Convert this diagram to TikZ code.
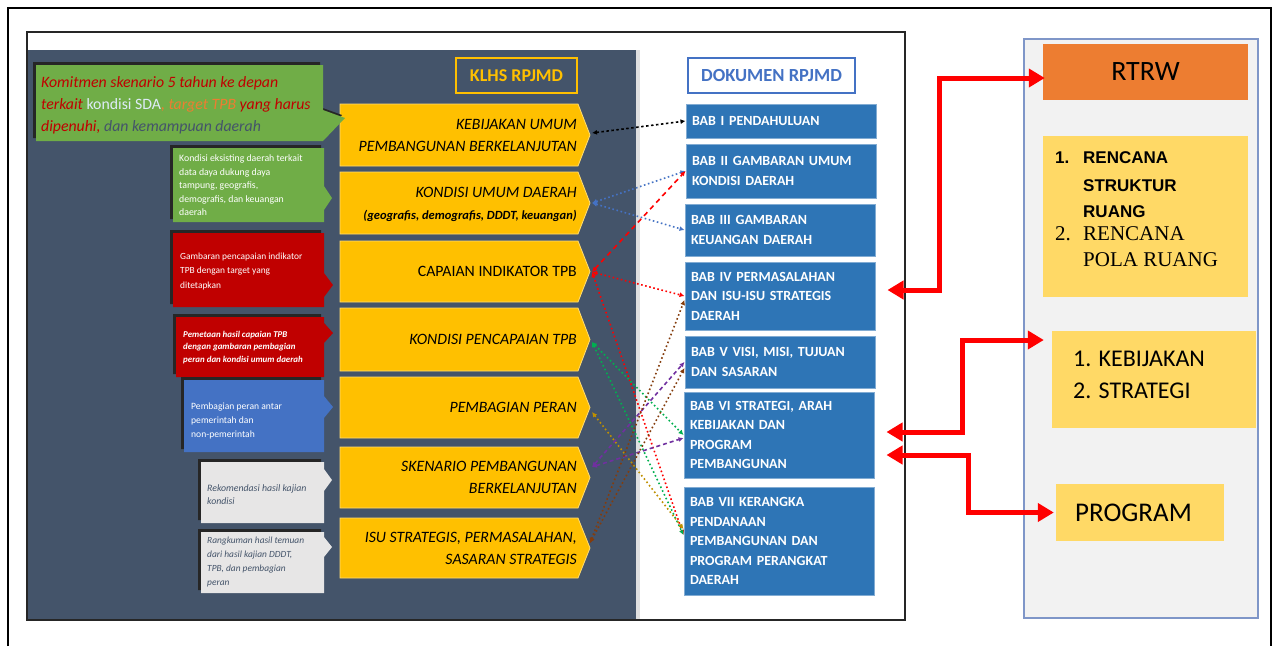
\documentclass[tikz,border=0pt]{standalone}
\usepackage{fontspec}
\setmainfont{Carlito}
\newfontfamily\lsans{Liberation Sans}
\newfontfamily\lserif{Liberation Serif}
\usetikzlibrary{arrows.meta,calc}
\definecolor{slate}{HTML}{44546A}
\definecolor{ygold}{HTML}{FFC000}
\definecolor{babblue}{HTML}{2E75B6}
\definecolor{kred}{HTML}{C00000}
\definecolor{cgreen}{HTML}{70AD47}
\definecolor{cblue}{HTML}{4472C4}
\definecolor{cgray}{HTML}{E7E6E6}
\definecolor{sdablue}{HTML}{DEEBF7}
\definecolor{orng}{HTML}{ED7D31}
\definecolor{lyellow}{HTML}{FFD966}
\definecolor{panelgray}{HTML}{F2F2F2}
\definecolor{panelborder}{HTML}{7F96C8}
\definecolor{cpurple}{HTML}{7030A0}
\definecolor{cbrown}{HTML}{843C0C}
\definecolor{cgold}{HTML}{BF9000}
\definecolor{cgreenl}{HTML}{00B050}
\newcommand\ypent[2]{\filldraw[ybox] (340,#1) -- (578,#1) -- (590,{(#1+#2)/2}) -- (578,#2) -- (340,#2) -- cycle;}
\newcommand\mycallout[9]{%
  \fill[black!85,shift={(-3,-3)}] (#2,#3) -- (#4,#3) -- (#4,#6) -- (#7,#8) -- (#4,#9) -- (#4,#5) -- (#2,#5) -- cycle;
  \fill[#1] (#2,#3) -- (#4,#3) -- (#4,#6) -- (#7,#8) -- (#4,#9) -- (#4,#5) -- (#2,#5) -- cycle;}
\begin{document}
\begin{tikzpicture}[x=1pt,y=-1pt,
  txt/.style={inner sep=0pt},
  bab/.style={fill=babblue, draw=babblue!60!white, line width=1pt, text=white,
    font=\bfseries\fontsize{14}{19.5}\selectfont, align=left, text width=178pt,
    inner xsep=6pt, inner ysep=2pt, minimum width=190pt},
  ybox/.style={fill=ygold, draw=ygold!55!white, line width=0.8pt},
  ytext/.style={inner sep=0pt, anchor=east, align=right, font=\itshape\fontsize{15.8}{22}\selectfont},
  ctext/.style={inner sep=0pt, anchor=west, align=left, text=white},
  conn/.style={line width=1.6pt, dash pattern=on 1.6pt off 2.6pt, {Latex[length=5pt,width=5pt]}-{Latex[length=5pt,width=5pt]}},
  bigarrow/.style={red, line width=5pt, {Triangle[length=16pt,width=18pt]}-{Triangle[length=16pt,width=18pt]}}
]
\useasboundingbox (0,0) rectangle (1278,646);
\fill[white] (0,0) rectangle (1278,646);
% outer frame
\draw[line width=2.5pt] (8,646) -- (8,8) -- (1271,8) -- (1271,646);
% inner frame
\filldraw[fill=white, draw=black!85, line width=2pt] (27,32) rectangle (905,620);
\fill[slate] (28,50) rectangle (636,619);
\fill[black!12] (636,50) rectangle (640,619);

% headers
\node[draw=ygold, line width=1.2pt, minimum width=121pt, minimum height=35pt, text=ygold, font=\bfseries\fontsize{18}{20}\selectfont, inner sep=0pt] (klhs) at (516.5,75.5) {KLHS RPJMD};
\node[draw=cblue, line width=1.2pt, fill=white, minimum width=167pt, minimum height=35pt, text=cblue, font=\bfseries\fontsize{18.5}{20}\selectfont, inner sep=0pt] (dok) at (771.5,75.5) {DOKUMEN RPJMD};

% yellow boxes
\ypent{104}{166}
\ypent{172}{234}
\ypent{241}{302}
\ypent{308}{371}
\ypent{377}{438}
\ypent{447}{508}
\ypent{518}{578}
\node[ytext] (t1) at (577,135) {KEBIJAKAN UMUM\\PEMBANGUNAN BERKELANJUTAN};
\node[ytext] (t2) at (577,204) {KONDISI UMUM DAERAH\\{\bfseries\fontsize{12.5}{14}\selectfont (geografis, demografis, DDDT, keuangan)}};
\node[ytext, font=\upshape\fontsize{15.8}{22}\selectfont] (t3) at (577,271.5) {CAPAIAN INDIKATOR TPB};
\node[ytext] (t4) at (577,339.5) {KONDISI PENCAPAIAN TPB};
\node[ytext] (t5) at (577,407.5) {PEMBAGIAN PERAN};
\node[ytext] (t6) at (577,477.5) {SKENARIO PEMBANGUNAN\\BERKELANJUTAN};
\node[ytext] (t7) at (577,548) {ISU STRATEGIS, PERMASALAHAN,\\SASARAN STRATEGIS};
\coordinate (y1) at (592,133);
\coordinate (y2) at (592,203);
\coordinate (y3) at (592,272);
\coordinate (y4) at (592,342);
\coordinate (y5) at (592,412);
\coordinate (y6) at (592,467);
\coordinate (y7) at (590,543);

% callouts
\mycallout{cgreen}{36}{65}{323}{141}{110}{345}{118}{141}
\mycallout{cgreen}{173}{148}{324}{222}{186}{332}{198}{210}
\mycallout{kred}{173}{233}{324}{307}{273}{333}{285}{297}
\mycallout{kred}{176}{317}{324}{377}{323}{333}{333}{343}
\mycallout{cblue}{184}{380}{324}{452}{396}{333}{407}{418}
\mycallout{cgray}{201}{462}{324}{523}{469}{332}{480}{491}
\mycallout{cgray}{201}{532}{324}{593}{537}{332}{547}{557}

\node[ctext, font=\itshape\fontsize{15.8}{22}\selectfont] (c1) at (41,105)
 {{\color{kred}Komitmen skenario 5 tahun ke depan}\\
  {\color{kred}terkait} {\upshape\color{sdablue}kondisi SDA}{\color{orng}, target TPB} {\color{kred}yang harus}\\
  {\color{kred}dipenuhi,} {\color{slate}dan kemampuan daerah}};
\node[ctext, font=\fontsize{9.8}{13.5}\selectfont] (c2) at (179,185.5)
 {Kondisi eksisting daerah terkait\\data daya dukung daya\\tampung, geografis,\\demografis, dan keuangan\\daerah};
\node[ctext, font=\fontsize{9.4}{14.5}\selectfont] (c3) at (180,271)
 {Gambaran pencapaian indikator\\TPB dengan target yang\\ditetapkan};
\node[ctext, font=\bfseries\itshape\fontsize{8.9}{12.5}\selectfont] (c4) at (183,347.5)
 {Pemetaan hasil capaian TPB\\dengan gambaran pembagian\\peran dan kondisi umum daerah};
\node[ctext, font=\fontsize{9.6}{14}\selectfont] (c5) at (191,421)
 {Pembagian peran antar\\pemerintah dan\\non-pemerintah};
\node[ctext, text=slate, font=\itshape\fontsize{9.8}{13}\selectfont] (c6) at (207,494.5)
 {Rekomendasi hasil kajian\\kondisi};
\node[ctext, text=slate, font=\itshape\fontsize{9.4}{14}\selectfont] (c7) at (207,562)
 {Rangkuman hasil temuan\\dari hasil kajian DDDT,\\TPB, dan pembagian\\peran};

% BAB boxes
\node[bab, minimum height=34pt] (b1) at (781,121) {BAB I PENDAHULUAN};
\node[bab, minimum height=54pt] (b2) at (781,171) {BAB II GAMBARAN UMUM\\KONDISI DAERAH};
\node[bab, minimum height=52pt] (b3) at (780,230) {BAB III GAMBARAN\\KEUANGAN DAERAH};
\node[bab, minimum height=68pt] (b4) at (780,296) {BAB IV PERMASALAHAN\\DAN ISU-ISU STRATEGIS\\DAERAH};
\node[bab, minimum height=52pt] (b5) at (780,362) {BAB V VISI, MISI, TUJUAN\\DAN SASARAN};
\node[bab, minimum height=86pt] (b6) at (779,435) {BAB VI STRATEGI, ARAH\\KEBIJAKAN DAN\\PROGRAM\\PEMBANGUNAN};
\node[bab, minimum height=108pt] (b7) at (779,541) {BAB VII KERANGKA\\PENDANAAN\\PEMBANGUNAN DAN\\PROGRAM PERANGKAT\\DAERAH};

% dotted connectors
\draw[conn, black, dash pattern=on 2.5pt off 2.5pt] (y1) -- (b1.west);
\draw[conn, cblue] (y2) -- (b2.west);
\draw[conn, cblue] (y2) -- (b3.west);
\draw[conn, red, dash pattern=on 5pt off 4pt] (y3) -- (b2.west);
\draw[conn, red] (y3) -- (b4.west);
\draw[conn, red] (y3) -- ([yshift=6pt]b7.west);
\draw[conn, cgreenl] (y4) -- (b6.west);
\draw[conn, cgreenl] (y4) -- ([yshift=6pt]b7.west);
\draw[conn, cgold] (y5) -- ([yshift=12pt]b7.west);
\draw[conn, cpurple, dash pattern=on 4pt off 3pt] (y6) -- (b5.west);
\draw[conn, cpurple, dash pattern=on 4pt off 3pt] (y6) -- ([yshift=-3pt]b6.west);
\draw[conn, cbrown] (y7) -- ([yshift=-4pt]b4.west);
\draw[conn, cbrown] (y7) -- ([yshift=-6pt]b5.west);

% right panel
\filldraw[fill=panelgray, draw=panelborder, line width=2pt] (1024,39) rectangle (1258,618);
\node[fill=orng, minimum width=205pt, minimum height=56pt, inner sep=0pt, font=\fontsize{28}{30}\selectfont] (rtrw) at (1145.5,72) {RTRW};
\node[fill=lyellow, minimum width=205pt, minimum height=161pt, inner sep=0pt] (rlist) at (1145.5,216.5) {};
\node[txt, anchor=west, font=\lsans\bfseries\fontsize{17}{20}\selectfont] (r1n) at (1055,158) {1.};
\node[txt, anchor=west, font=\lsans\bfseries\fontsize{17}{20}\selectfont] (r1a) at (1083,158) {RENCANA};
\node[txt, anchor=west, font=\lsans\bfseries\fontsize{17}{20}\selectfont] (r1b) at (1083,186) {STRUKTUR};
\node[txt, anchor=west, font=\lsans\bfseries\fontsize{17}{20}\selectfont] (r1c) at (1083,212) {RUANG};
\node[txt, anchor=west, font=\lserif\fontsize{21}{24}\selectfont] (r2n) at (1055,234) {2.};
\node[txt, anchor=west, font=\lserif\fontsize{21}{24}\selectfont] (r2a) at (1083,234) {RENCANA};
\node[txt, anchor=west, font=\lserif\fontsize{21}{24}\selectfont] (r2b) at (1083,260) {POLA RUANG};
\node[fill=lyellow, minimum width=204pt, minimum height=97pt, inner sep=0pt] (kb) at (1154,379.5) {};
\node[txt, anchor=west, font=\fontsize{24}{26}\selectfont] (kb1) at (1073,359) {1. KEBIJAKAN};
\node[txt, anchor=west, font=\fontsize{24}{26}\selectfont] (kb2) at (1073,391) {2. STRATEGI};
\node[fill=lyellow, minimum width=168pt, minimum height=57pt, inner sep=0pt] (prog) at (1140,512.5) {};
\node[txt, anchor=west, font=\fontsize{27}{29}\selectfont] (progt) at (1075,513) {PROGRAM};

% thick red arrows
\draw[bigarrow] ([xshift=12pt,yshift=6pt]b4.east) -- ++(52,0) |- ([xshift=2pt,yshift=-6pt]rtrw.west);
\draw[bigarrow] ([xshift=12pt,yshift=3pt]b6.east) -- ++(76,0) |- ([xshift=-8pt,yshift=39.5pt]kb.west);
\draw[bigarrow] ([xshift=12pt,yshift=-20pt]b6.east) -- ++(82,0) |- ([xshift=-2pt]prog.west);
\end{tikzpicture}
\end{document}
